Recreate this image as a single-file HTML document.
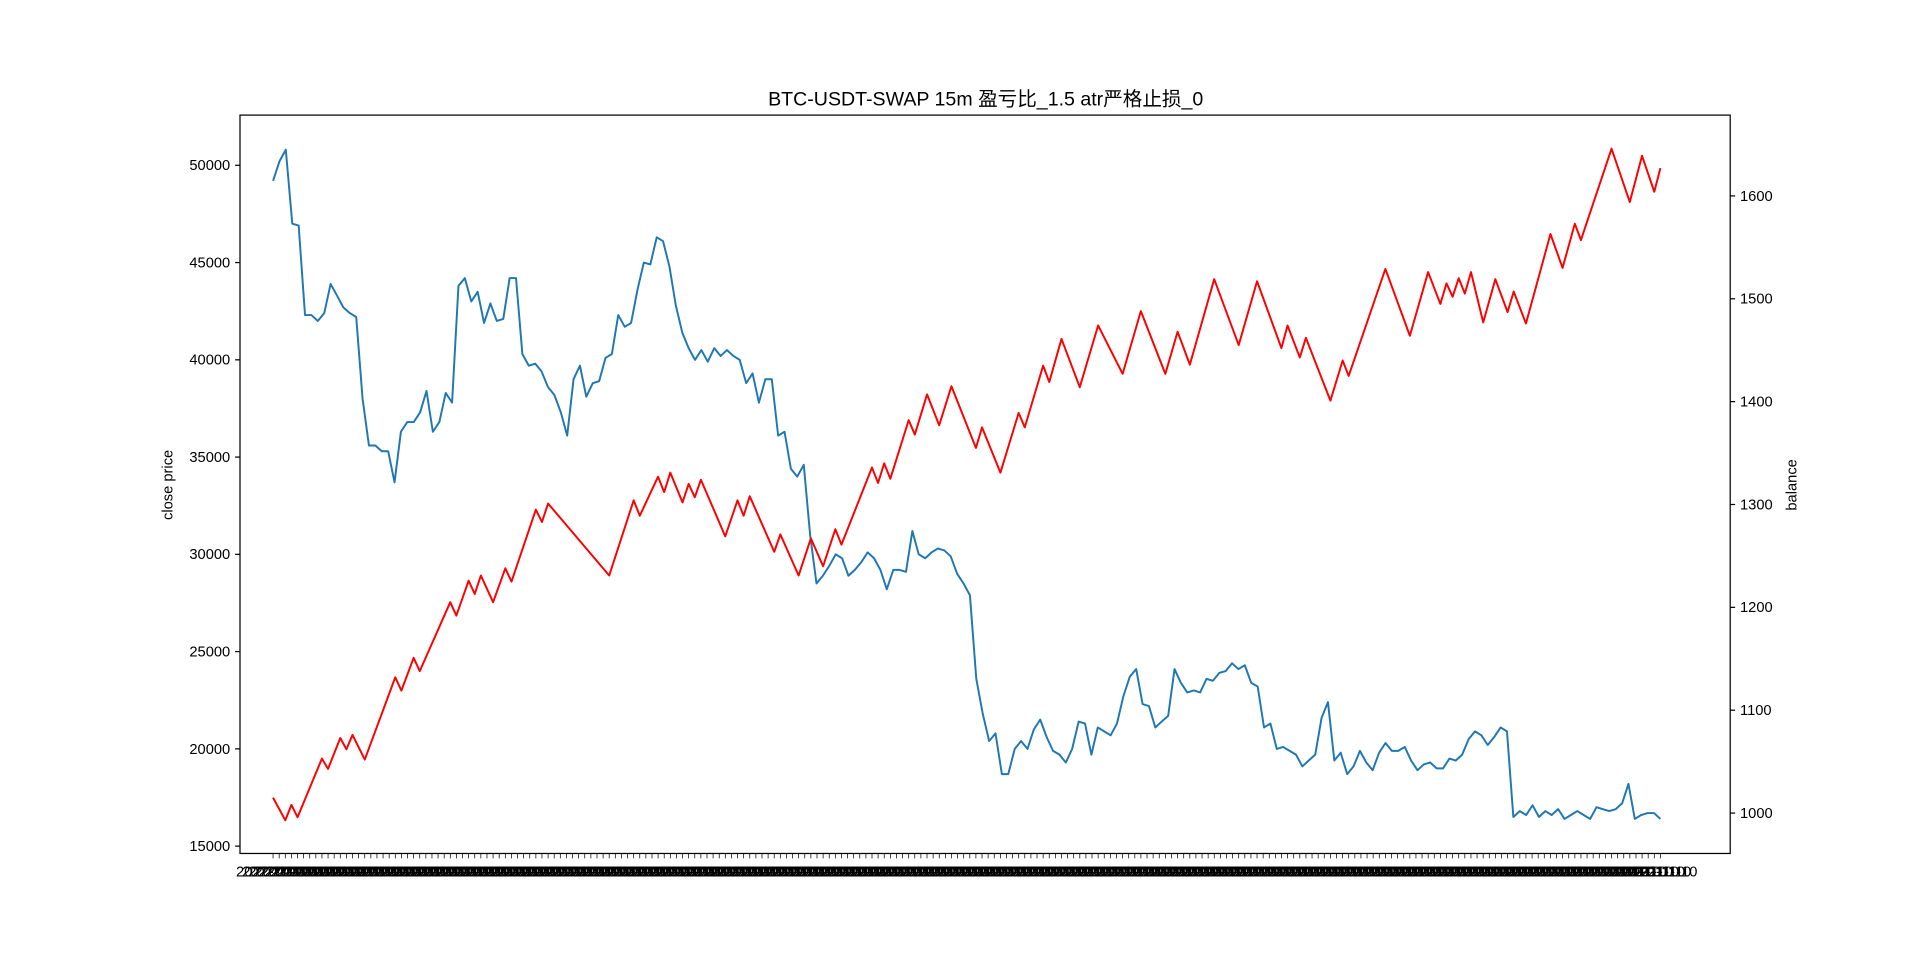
<!DOCTYPE html>
<html><head><meta charset="utf-8"><style>
body{margin:0;background:#fff;}
svg{display:block;}
svg text{font-family:"Liberation Sans","Noto Sans CJK SC",sans-serif;fill:#000;}
</style></head><body>
<svg id="chart" width="1920" height="960" viewBox="0 0 1568 784" xmlns="http://www.w3.org/2000/svg">
<rect width="1568" height="784" fill="#fff"/>
<text x="805" y="86" font-size="16" text-anchor="middle">BTC-USDT-SWAP 15m 盈亏比_1.5 atr严格止损_0</text>
<g id="xticks"></g>
<g id="ly"></g>
<g id="ry"></g>
<g id="series"></g>
<rect x="196" y="94" width="1217" height="603" fill="none" stroke="#000" stroke-width="1"/>
<text transform="translate(141,396) rotate(-90)" font-size="12" text-anchor="middle">close price</text>
<text transform="translate(1467,396) rotate(-90)" font-size="12" text-anchor="middle">balance</text>
</svg>
<script>
const closePrice=[49200,50200,50800,47000,46900,42300,42300,42000,42400,43900,43300,42700,42400,42200,38000,35600,35600,35300,35300,33700,36300,36800,36800,37300,38400,36300,36800,38300,37800,43800,44200,43000,43500,41900,42900,42000,42100,44200,44200,40300,39700,39800,39400,38600,38200,37300,36100,39000,39700,38100,38800,38900,40100,40300,42300,41700,41900,43600,45000,44900,46300,46100,44800,42800,41400,40600,40000,40500,39900,40600,40200,40500,40200,40000,38800,39300,37800,39000,39000,36100,36300,34400,34000,34600,31000,28500,28900,29400,30000,29800,28900,29200,29600,30100,29800,29200,28200,29200,29200,29100,31200,30000,29800,30100,30300,30200,29900,29000,28500,27900,23600,21800,20400,20800,18700,18700,20000,20400,20000,21000,21500,20600,19900,19700,19300,20000,21400,21300,19700,21100,20900,20700,21300,22700,23700,24100,22300,22200,21100,21400,21700,24100,23400,22900,23000,22900,23600,23500,23900,24000,24400,24100,24300,23400,23200,21100,21300,20000,20100,19900,19700,19100,19400,19700,21600,22400,19400,19800,18700,19100,19900,19300,18900,19800,20300,19900,19900,20100,19400,18900,19200,19300,19000,19000,19500,19400,19700,20500,20900,20700,20200,20600,21100,20900,16500,16800,16600,17100,16500,16800,16600,16900,16400,16600,16800,16600,16400,17000,16900,16800,16900,17200,18200,16400,16600,16700,16700,16400];
const balanceIdx=[0,2,3,4,8,9,11,12,13,15,20,21,23,24,29,30,32,33,34,36,38,39,43,44,45,55,59,60,63,64,65,67,68,69,70,74,76,77,78,82,83,86,88,90,92,93,98,99,100,101,104,105,107,109,111,115,116,119,122,123,126,127,129,132,135,139,142,146,148,150,154,158,161,165,166,168,169,173,175,176,182,186,189,191,192,193,194,195,196,198,200,202,203,205,209,211,213,214,219,222,224,226,227];
const balance=[1015,993,1008,996,1053,1043,1073,1062,1076,1052,1132,1119,1151,1138,1205,1192,1226,1213,1231,1205,1238,1225,1295,1283,1301,1231,1304,1289,1327,1312,1331,1302,1320,1307,1324,1269,1304,1289,1308,1254,1271,1231,1267,1240,1276,1261,1336,1321,1340,1325,1382,1368,1407,1377,1415,1355,1375,1331,1389,1375,1435,1419,1461,1414,1474,1427,1488,1427,1468,1436,1519,1455,1517,1452,1474,1443,1462,1401,1440,1425,1529,1464,1526,1495,1515,1502,1520,1505,1526,1477,1519,1487,1507,1476,1563,1530,1573,1557,1646,1594,1639,1604,1627];
const leftTicks=[15000,20000,25000,30000,35000,40000,45000,50000];
const rightTicks=[1000,1100,1200,1300,1400,1500,1600];
const NS="http://www.w3.org/2000/svg";
const xMax=227;
const X=i=>223+i*(1356-223)/xMax;
const YL=v=>691-(v-15000)*(691-135)/35000;
const YR=v=>664-(v-1000)*0.84;
function mk(tag,attrs,parent){const e=document.createElementNS(NS,tag);for(const k in attrs)e.setAttribute(k,attrs[k]);parent.appendChild(e);return e;}
const ly=document.getElementById('ly'),ry=document.getElementById('ry'),xt=document.getElementById('xticks'),se=document.getElementById('series');
leftTicks.forEach(v=>{
  const l=mk('line',{x1:192,x2:196,y1:YL(v),y2:YL(v),stroke:'#000'},ly);
  
  
  const t=mk('text',{x:188,y:YL(v)+4,'font-size':12,'text-anchor':'end'},ly);t.textContent=v;
  
  
});
rightTicks.forEach(v=>{
  const l=mk('line',{x1:1413,x2:1417,y1:YR(v),y2:YR(v),stroke:'#000'},ry);
  
  
  const t=mk('text',{x:1421,y:YR(v)+4,'font-size':12},ry);t.textContent=v;
  
  
});
for(let i=0;i<=xMax;i+=1){
  const l=mk('line',{x1:X(i),x2:X(i),y1:697,y2:701,stroke:'#000','stroke-width':0.6},xt);
  
  
  const t=mk('text',{x:X(i),y:716,'font-size':12,'text-anchor':'middle'},xt);t.textContent='2022-11-10';
  
  
}
const bp=closePrice.map((v,i)=>X(i*xMax/(closePrice.length-1)).toFixed(1)+','+YL(v).toFixed(1)).join(' ');
const b=mk('polyline',{points:bp,fill:'none',stroke:'#1f77b4','stroke-width':1.6,'stroke-linejoin':'round'},se);


const rp=balance.map((v,i)=>X(balanceIdx[i]).toFixed(1)+','+YR(v).toFixed(1)).join(' ');
const r=mk('polyline',{points:rp,fill:'none',stroke:'#ff0000','stroke-width':1.6,'stroke-linejoin':'round'},se);


</script>
</body></html>
